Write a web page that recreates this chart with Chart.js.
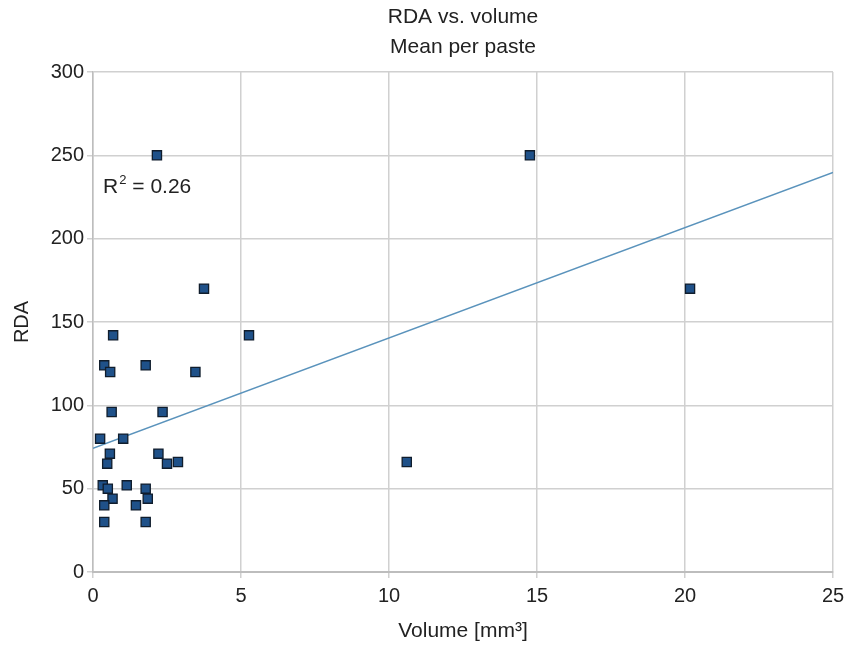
<!DOCTYPE html>
<html>
<head>
<meta charset="utf-8">
<title>RDA vs. volume</title>
<script src="https://cdn.jsdelivr.net/npm/chart.js@4.4.1/dist/chart.umd.min.js"></script>
<style>
  html, body { margin: 0; padding: 0; background: #fff; }
  #wrap { width: 845px; height: 645px; }
</style>
</head>
<body>
<div id="wrap"><canvas id="rdaChart" width="845" height="645"></canvas></div>
<script>
// volumen medio por pasta [mm3] y su RDA
const volumen = [2.16, 14.76, 20.17, 3.75, 5.27, 0.68, 0.38, 0.58, 1.78, 3.46,
                 0.63, 2.35, 0.24, 1.02, 0.57, 0.48, 2.21, 2.50, 2.87, 10.60,
                 0.33, 0.50, 1.14, 1.78, 0.66, 1.85, 0.38, 1.45, 0.38, 1.78];
const rda = [250, 250, 170, 170, 142, 142, 124, 120, 124, 120,
             96, 96, 80, 80, 71, 65, 71, 65, 66, 66,
             52, 50, 52, 50, 44, 44, 40, 40, 30, 30];
const ticksX = [0, 5, 10, 15, 20, 25];
const ticksY = [0, 50, 100, 150, 200, 250, 300];
const valorR2 = '0.26';

const fuente = "'Liberation Sans', Arial, Helvetica, sans-serif";

// Puntos
const puntos = volumen.map((v, i) => ({ x: v, y: rda[i] }));

// Recta de regresion por minimos cuadrados
const n = puntos.length;
const mx = volumen.reduce((a, b) => a + b, 0) / n;
const my = rda.reduce((a, b) => a + b, 0) / n;
let sxy = 0, sxx = 0;
puntos.forEach(p => { sxy += (p.x - mx) * (p.y - my); sxx += (p.x - mx) * (p.x - mx); });
const pendiente = sxy / sxx;
const ordenada = my - pendiente * mx;
const xMax = ticksX[ticksX.length - 1];
const recta = [{ x: 0, y: ordenada }, { x: xMax, y: ordenada + pendiente * xMax }];

// Texto "R2 = ..." con el 2 como superindice
const etiquetaR2 = {
    id: 'etiquetaR2',
    afterDatasetsDraw(chart) {
        const c = chart.ctx;
        const sx = chart.scales.x, sy = chart.scales.y;
        let x = sx.getPixelForValue(0.34);
        const y = sy.getPixelForValue(231);
        c.save();
        c.fillStyle = '#222';
        c.textBaseline = 'middle';
        c.font = '21px ' + fuente;
        c.fillText('R', x, y);
        x += c.measureText('R').width + 1;
        c.font = '13px ' + fuente;
        c.fillText('2', x, y - 7);
        x += c.measureText('2').width;
        c.font = '21px ' + fuente;
        c.fillText(' = ' + valorR2, x, y);
        c.restore();
    }
};

const ctx = document.getElementById('rdaChart');

new Chart(ctx, {
    type: 'scatter',
    data: {
        datasets: [{
            label: 'RDA',
            data: puntos,
            pointStyle: 'rect',
            pointRadius: 6.5,
            pointHoverRadius: 6.5,
            backgroundColor: '#1f5189',
            borderColor: '#101d2c',
            borderWidth: 1.3,
            order: 1
        }, {
            type: 'line',
            label: 'Tendencia',
            data: recta,
            borderColor: '#5a93bc',
            borderWidth: 1.5,
            pointRadius: 0,
            fill: false,
            order: 2
        }]
    },
    options: {
        responsive: false,
        animation: false,
        layout: { padding: { left: 0, right: 12, top: 0, bottom: 0 } },
        plugins: {
            legend: { display: false },
            tooltip: { enabled: false },
            title: {
                display: true,
                fullSize: false, // centrado sobre el area del grafico
                text: ['RDA vs. volume', 'Mean per paste'],
                color: '#222',
                font: { family: fuente, size: 21, weight: 'normal', lineHeight: 30 / 21 },
                padding: { top: 2, bottom: 10 }
            }
        },
        scales: {
            x: {
                type: 'linear',
                min: 0,
                max: 25,
                afterBuildTicks: s => { s.ticks = ticksX.map(v => ({ value: v })); },
                afterFit: s => { s.height = 73; s.paddingRight = 0; },
                grid: { color: '#d0d0d0', lineWidth: 1.5, tickLength: 6, drawTicks: true },
                border: { color: '#bdbdbd', width: 2 },
                ticks: { color: '#222', font: { family: fuente, size: 20 }, padding: 6 },
                title: {
                    display: true,
                    text: 'Volume [mm³]',
                    color: '#222',
                    font: { family: fuente, size: 21 },
                    padding: { top: 0, bottom: 1.5 }
                }
            },
            y: {
                min: 0,
                max: 300,
                afterBuildTicks: s => { s.ticks = ticksY.map(v => ({ value: v })); },
                afterFit: s => { s.width = 93; },
                grid: { color: '#d0d0d0', lineWidth: 1.5, tickLength: 6, drawTicks: true },
                border: { color: '#bdbdbd', width: 1.5 },
                ticks: { color: '#222', font: { family: fuente, size: 20 }, padding: 3 },
                title: {
                    display: true,
                    text: 'RDA',
                    color: '#222',
                    font: { family: fuente, size: 20 },
                    padding: { top: 10, bottom: 0 }
                }
            }
        }
    },
    plugins: [etiquetaR2]
});
</script>
</body>
</html>
